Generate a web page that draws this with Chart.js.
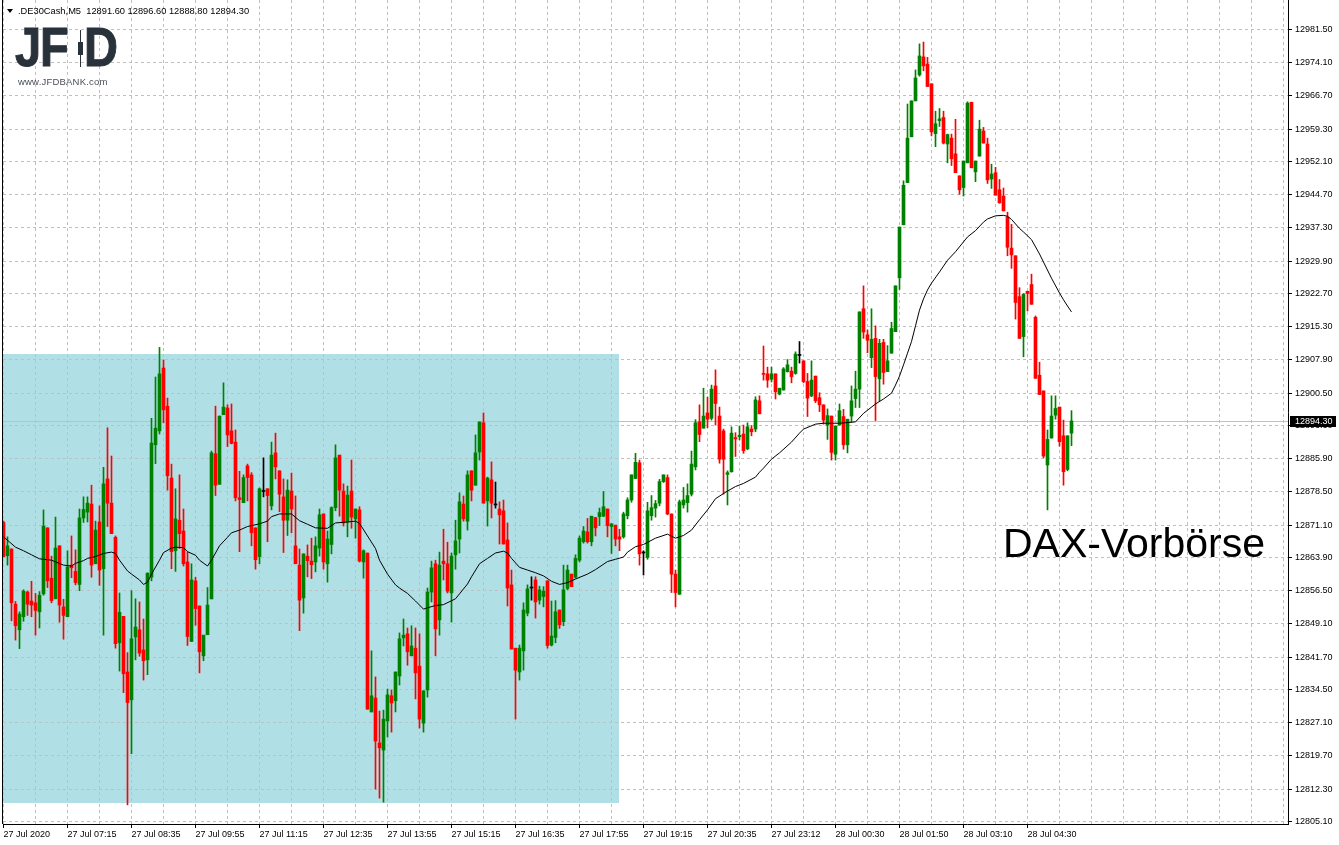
<!DOCTYPE html>
<html lang="de">
<head>
  <meta charset="UTF-8">
  <title>DE30Cash M5</title>
  <script src="https://cdn.jsdelivr.net/npm/chart.js"></script>
  <style>
    body { margin: 0; background: #fff; }
    #wrap { position: relative; width: 1339px; height: 845px; overflow: hidden; }
    #wrap div.over { position: absolute; pointer-events: none; font-family: "Liberation Sans", Arial, sans-serif; }
    #quote { left: 7px; top: 5px; font-size: 9.3px; line-height: 12px; color: #000; white-space: pre; }
    #quote .tri { display: inline-block; width: 0; height: 0; border-left: 3px solid transparent; border-right: 3px solid transparent; border-top: 4px solid #000; margin-right: 5px; vertical-align: 1px; }
    .logo { font-weight: bold; font-size: 56px; line-height: 54px; color: #29313a; transform: scaleX(0.84); transform-origin: left top; -webkit-text-stroke: 1px #29313a; }
    #url { left: 18px; top: 76px; font-size: 9.5px; color: #4a4f55; letter-spacing: 0.2px; }
    #dax { left: 1003px; top: 523px; font-size: 41px; line-height: 41px; color: #000; }
  </style>
</head>
<body>
<div id="wrap">
  <canvas id="chart" width="1339" height="845"></canvas>
  <div class="over" id="quote"><span class="tri"></span><span id="quoteText"></span></div>
  <div class="over logo" style="left:15px;top:20px">J</div>
  <div class="over logo" style="left:40px;top:20px">F</div>
  <div class="over logo" style="left:84px;top:20px">D</div>
  <div class="over" style="left:80px;top:30px;width:1px;height:37px;background:#29313a"></div>
  <div class="over" style="left:78px;top:42px;width:5px;height:13px;background:#29313a"></div>
  <div class="over" id="url">www.JFDBANK.com</div>
  <div class="over" id="dax">DAX-Vorbörse</div>
</div>

<script>
  // 5 minute candles, DE30Cash
  const symbol = '.DE30Cash,M5';
  const timeLabels = ['27 Jul 2020', '27 Jul 07:15', '27 Jul 08:35', '27 Jul 09:55', '27 Jul 11:15', '27 Jul 12:35',
    '27 Jul 13:55', '27 Jul 15:15', '27 Jul 16:35', '27 Jul 17:55', '27 Jul 19:15', '27 Jul 20:35',
    '27 Jul 23:12', '28 Jul 00:30', '28 Jul 01:50', '28 Jul 03:10', '28 Jul 04:30'];
  const priceTicks = [12981.5, 12974.1, 12966.7, 12959.3, 12952.1, 12944.7, 12937.3, 12929.9, 12922.7,
    12915.3, 12907.9, 12900.5, 12893.3, 12885.9, 12878.5, 12871.1, 12863.9, 12856.5, 12849.1,
    12841.7, 12834.5, 12827.1, 12819.7, 12812.3, 12805.1];

  const opens = [
    12871.7, 12864.3, 12865.8, 12853.5, 12847.8, 12850.7, 12856.2, 12854.2, 12853.8, 12851.8,
    12855.8, 12870.5, 12859.3, 12854.7, 12866.5, 12852.9, 12850.7, 12862.2, 12860.8, 12857.9,
    12872.7, 12874.0, 12875.8, 12862.5, 12871.8, 12861.4, 12881.4, 12876.0, 12868.4, 12844.9,
    12850.8, 12838.4, 12832.2, 12846.2, 12847.8, 12843.3, 12841.1, 12859.5, 12889.0, 12892.1,
    12906.1, 12897.6, 12881.6, 12865.4, 12872.2, 12869.8, 12862.9, 12845.2, 12858.7, 12853.1,
    12842.0, 12846.7, 12854.7, 12887.0, 12880.2, 12895.7, 12897.2, 12892.1, 12889.6, 12877.2,
    12876.1, 12884.3, 12882.3, 12870.5, 12864.1, 12878.6, 12879.2, 12875.4, 12887.2, 12883.2,
    12877.4, 12872.2, 12878.7, 12866.5, 12862.2, 12854.9, 12864.2, 12863.1, 12862.9, 12866.0,
    12873.6, 12862.5, 12866.8, 12875.0, 12886.7, 12878.7, 12871.8, 12878.7, 12872.5, 12874.5,
    12862.9, 12864.9, 12829.5, 12832.6, 12822.6, 12821.0, 12827.5, 12833.1, 12832.0, 12837.5,
    12846.0, 12846.9, 12842.0, 12843.7, 12839.7, 12827.0, 12834.4, 12856.2, 12862.5, 12850.0,
    12863.1, 12862.5, 12856.0, 12864.5, 12868.0, 12875.8, 12872.0, 12883.2, 12880.0, 12887.4,
    12893.9, 12876.5, 12881.2, 12875.6, 12874.7, 12874.3, 12867.8, 12857.8, 12843.7, 12838.4,
    12843.1, 12851.5, 12857.1, 12858.9, 12854.4, 12855.2, 12858.7, 12844.4, 12846.1, 12852.2,
    12849.6, 12857.0, 12860.2, 12859.5, 12863.3, 12867.4, 12869.6, 12867.4, 12872.8, 12873.0,
    12873.1, 12874.7, 12870.8, 12871.1, 12868.5, 12868.5, 12873.2, 12876.7, 12881.5, 12885.0,
    12864.9, 12863.9, 12873.2, 12874.9, 12876.0, 12880.8, 12881.7, 12873.6, 12860.2, 12855.7,
    12875.6, 12876.1, 12878.0, 12884.1, 12894.1, 12892.7, 12896.1, 12894.9, 12902.1, 12895.4,
    12892.1, 12882.4, 12883.0, 12890.6, 12890.8, 12891.4, 12888.1, 12892.5, 12892.5, 12898.8,
    12904.9, 12904.8, 12903.6, 12904.8, 12900.3, 12901.2, 12905.3, 12905.4, 12904.9, 12908.9,
    12907.7, 12903.1, 12899.9, 12904.3, 12899.5, 12897.9, 12893.4, 12895.4, 12886.9, 12893.4,
    12895.3, 12889.0, 12895.4, 12899.3, 12901.4, 12919.3, 12913.5, 12908.4, 12912.7, 12903.7,
    12911.8, 12905.3, 12909.4, 12914.2, 12926.2, 12938.0, 12947.4, 12957.6, 12965.6, 12971.4,
    12975.4, 12973.8, 12969.4, 12958.3, 12961.2, 12961.9, 12956.0, 12957.3, 12953.8, 12948.9,
    12946.3, 12951.8, 12965.3, 12949.8, 12953.3, 12958.9, 12956.0, 12948.2, 12949.6, 12945.8,
    12944.4, 12939.7, 12932.8, 12931.1, 12922.0, 12913.1, 12923.2, 12924.7, 12917.4, 12904.5,
    12901.0, 12884.5, 12890.5, 12895.6, 12897.4, 12891.0, 12883.5, 12891.6
  ];
  const highs = [
    12872.0, 12868.5, 12865.8, 12854.1, 12851.8, 12856.7, 12856.4, 12858.6, 12855.9, 12856.3,
    12874.5, 12870.5, 12864.2, 12872.9, 12866.5, 12854.6, 12865.4, 12868.7, 12865.6, 12874.7,
    12877.4, 12877.4, 12880.0, 12872.0, 12875.4, 12884.0, 12892.8, 12886.5, 12868.7, 12856.0,
    12850.8, 12842.7, 12856.5, 12854.7, 12854.0, 12850.2, 12860.5, 12894.9, 12904.1, 12910.7,
    12907.9, 12899.4, 12884.7, 12879.2, 12882.3, 12874.7, 12865.1, 12862.5, 12859.5, 12853.1,
    12846.6, 12857.2, 12887.6, 12897.6, 12895.4, 12902.8, 12897.9, 12898.1, 12892.3, 12883.1,
    12882.3, 12884.7, 12882.8, 12870.5, 12879.4, 12886.1, 12879.2, 12889.6, 12891.6, 12883.2,
    12881.4, 12881.2, 12882.7, 12877.6, 12865.8, 12864.7, 12866.7, 12868.2, 12868.5, 12874.7,
    12873.6, 12869.8, 12875.2, 12889.0, 12886.7, 12880.3, 12879.8, 12885.6, 12874.7, 12875.2,
    12865.6, 12864.9, 12843.1, 12837.3, 12829.7, 12829.9, 12834.6, 12834.4, 12838.4, 12847.1,
    12850.2, 12848.2, 12848.7, 12848.2, 12846.9, 12834.2, 12857.1, 12863.1, 12863.3, 12865.1,
    12870.2, 12867.3, 12864.9, 12872.2, 12878.3, 12877.6, 12883.2, 12883.2, 12891.2, 12894.1,
    12896.1, 12881.8, 12885.2, 12880.7, 12876.3, 12876.7, 12871.6, 12861.1, 12843.7, 12844.4,
    12853.8, 12857.8, 12859.6, 12859.6, 12857.5, 12857.4, 12858.7, 12854.2, 12854.3, 12852.2,
    12862.2, 12862.2, 12860.2, 12864.5, 12868.7, 12870.8, 12872.6, 12873.1, 12872.8, 12874.9,
    12878.6, 12874.7, 12871.4, 12871.1, 12870.2, 12874.0, 12877.2, 12882.3, 12887.1, 12885.6,
    12865.4, 12876.2, 12877.7, 12876.6, 12881.3, 12882.3, 12882.3, 12873.6, 12861.1, 12876.7,
    12879.5, 12880.3, 12887.6, 12894.6, 12897.9, 12901.6, 12899.6, 12902.3, 12905.7, 12897.4,
    12892.5, 12883.2, 12893.0, 12891.7, 12893.2, 12893.4, 12893.9, 12893.3, 12899.7, 12899.9,
    12911.0, 12906.3, 12906.3, 12904.8, 12901.6, 12906.2, 12908.0, 12906.3, 12909.7, 12912.0,
    12907.7, 12904.9, 12907.7, 12904.3, 12900.6, 12897.9, 12897.0, 12895.4, 12893.2, 12898.1,
    12896.9, 12894.7, 12902.1, 12905.4, 12918.6, 12924.4, 12914.6, 12919.3, 12915.5, 12912.5,
    12912.5, 12911.1, 12916.3, 12924.4, 12937.5, 12947.8, 12964.9, 12965.6, 12972.5, 12978.3,
    12978.7, 12975.3, 12969.4, 12963.3, 12963.9, 12963.3, 12958.2, 12958.2, 12961.5, 12948.9,
    12952.2, 12965.4, 12965.3, 12952.2, 12961.3, 12959.7, 12957.3, 12951.5, 12950.8, 12948.1,
    12946.2, 12940.8, 12938.1, 12931.1, 12924.0, 12922.7, 12923.2, 12927.0, 12917.7, 12907.4,
    12901.0, 12892.3, 12899.9, 12899.9, 12897.4, 12894.5, 12891.0, 12896.6
  ];
  const lows = [
    12864.0, 12862.2, 12849.8, 12845.5, 12843.6, 12849.7, 12851.0, 12850.7, 12846.6, 12848.2,
    12855.5, 12857.2, 12853.8, 12854.7, 12849.5, 12845.7, 12850.7, 12859.4, 12857.8, 12856.5,
    12871.7, 12871.8, 12859.5, 12862.5, 12857.7, 12846.6, 12870.8, 12869.2, 12843.7, 12838.6,
    12833.8, 12808.8, 12820.2, 12841.1, 12841.9, 12836.6, 12837.8, 12858.7, 12884.8, 12891.4,
    12893.9, 12878.9, 12861.4, 12860.8, 12865.9, 12862.0, 12844.3, 12845.2, 12848.8, 12838.2,
    12840.9, 12846.7, 12854.7, 12877.7, 12880.2, 12895.7, 12888.6, 12889.2, 12876.5, 12865.2,
    12876.1, 12876.5, 12866.5, 12861.3, 12862.5, 12877.4, 12867.4, 12874.5, 12881.4, 12874.1,
    12865.0, 12868.8, 12869.4, 12862.5, 12847.6, 12851.5, 12859.6, 12859.2, 12860.7, 12864.2,
    12861.3, 12858.4, 12864.7, 12874.3, 12873.1, 12870.9, 12868.5, 12870.4, 12868.2, 12862.9,
    12859.3, 12830.1, 12829.5, 12812.3, 12810.3, 12809.4, 12823.9, 12825.0, 12829.5, 12835.5,
    12844.2, 12839.9, 12842.0, 12832.4, 12825.9, 12825.0, 12832.8, 12854.0, 12842.0, 12846.6,
    12858.9, 12856.0, 12849.5, 12861.3, 12864.9, 12872.0, 12870.0, 12876.5, 12880.0, 12885.6,
    12876.0, 12870.9, 12872.7, 12874.9, 12866.9, 12866.9, 12853.1, 12843.5, 12827.9, 12836.6,
    12838.8, 12850.9, 12854.4, 12850.4, 12853.5, 12852.9, 12843.7, 12844.2, 12844.9, 12848.1,
    12848.7, 12856.7, 12857.4, 12859.3, 12862.9, 12867.1, 12867.1, 12866.5, 12868.7, 12871.0,
    12873.0, 12868.5, 12864.8, 12866.5, 12865.4, 12868.2, 12872.5, 12876.2, 12881.5, 12862.2,
    12860.0, 12863.5, 12872.2, 12872.9, 12875.4, 12880.6, 12873.4, 12856.1, 12852.9, 12855.7,
    12874.9, 12874.0, 12877.6, 12883.4, 12889.7, 12892.7, 12892.8, 12894.5, 12893.4, 12884.9,
    12878.0, 12875.6, 12882.9, 12886.4, 12890.1, 12887.1, 12887.9, 12891.0, 12891.9, 12895.9,
    12903.4, 12901.8, 12903.0, 12899.2, 12900.1, 12901.2, 12905.2, 12902.8, 12904.7, 12907.2,
    12902.8, 12895.3, 12899.7, 12898.4, 12896.4, 12893.6, 12890.2, 12885.6, 12885.6, 12893.4,
    12888.0, 12887.2, 12894.1, 12897.3, 12897.3, 12912.7, 12909.5, 12906.2, 12894.4, 12898.8,
    12902.5, 12905.3, 12909.4, 12914.2, 12923.6, 12938.0, 12947.4, 12957.6, 12965.6, 12971.1,
    12972.3, 12968.8, 12957.8, 12955.4, 12959.9, 12956.0, 12951.8, 12951.2, 12949.6, 12944.8,
    12944.4, 12951.8, 12950.7, 12947.6, 12953.3, 12956.2, 12947.2, 12946.1, 12944.6, 12942.8,
    12941.1, 12931.1, 12928.3, 12917.0, 12912.7, 12908.6, 12918.8, 12920.3, 12903.8, 12900.2,
    12886.1, 12874.5, 12890.5, 12894.7, 12888.7, 12880.0, 12883.2, 12888.8
  ];
  const closes = [
    12864.1, 12866.5, 12853.8, 12848.7, 12851.3, 12856.4, 12853.5, 12853.3, 12852.1, 12855.5,
    12870.9, 12858.7, 12854.3, 12866.0, 12853.3, 12851.0, 12861.8, 12861.6, 12858.3, 12872.7,
    12874.6, 12876.0, 12862.2, 12870.0, 12861.1, 12880.3, 12876.0, 12869.2, 12844.7, 12851.7,
    12838.0, 12831.6, 12845.8, 12848.4, 12842.6, 12840.9, 12860.4, 12889.4, 12892.7, 12904.8,
    12896.8, 12882.1, 12865.2, 12872.5, 12869.2, 12862.5, 12846.3, 12858.9, 12852.5, 12842.9,
    12846.6, 12853.3, 12887.2, 12880.0, 12895.4, 12897.4, 12891.2, 12889.3, 12877.2, 12876.8,
    12881.7, 12881.7, 12869.4, 12863.4, 12879.2, 12878.6, 12877.7, 12886.7, 12884.1, 12878.0,
    12872.2, 12878.9, 12874.7, 12862.5, 12854.4, 12864.7, 12863.2, 12862.3, 12866.5, 12873.4,
    12862.9, 12868.0, 12875.0, 12886.1, 12878.9, 12871.6, 12877.8, 12872.9, 12874.7, 12863.1,
    12865.4, 12830.1, 12833.1, 12823.0, 12821.5, 12827.9, 12833.3, 12831.5, 12838.4, 12845.8,
    12846.6, 12842.9, 12844.2, 12838.2, 12827.9, 12834.2, 12856.2, 12861.6, 12848.0, 12862.2,
    12862.5, 12856.4, 12864.2, 12867.6, 12876.3, 12872.5, 12882.3, 12878.9, 12887.2, 12894.1,
    12876.0, 12881.6, 12876.0, 12875.6, 12873.4, 12866.9, 12857.1, 12843.5, 12838.8, 12843.7,
    12852.2, 12856.9, 12857.1, 12854.0, 12856.7, 12856.4, 12844.3, 12846.4, 12851.8, 12848.9,
    12856.7, 12861.1, 12857.4, 12863.7, 12868.2, 12869.8, 12867.4, 12873.1, 12870.5, 12873.9,
    12875.2, 12871.0, 12871.4, 12868.0, 12868.0, 12873.6, 12876.7, 12882.3, 12885.1, 12864.7,
    12864.9, 12874.3, 12875.0, 12875.9, 12880.8, 12882.3, 12873.6, 12860.2, 12856.1, 12876.3,
    12876.7, 12877.7, 12884.7, 12893.9, 12891.3, 12895.4, 12894.7, 12901.4, 12898.2, 12885.8,
    12885.8, 12882.8, 12891.6, 12890.3, 12891.1, 12887.7, 12893.0, 12891.9, 12899.0, 12895.9,
    12904.7, 12903.4, 12904.8, 12900.8, 12901.6, 12905.9, 12906.8, 12904.2, 12909.2, 12908.9,
    12903.1, 12899.4, 12903.4, 12898.8, 12897.9, 12894.5, 12895.5, 12887.3, 12893.2, 12896.6,
    12889.0, 12894.7, 12898.8, 12901.4, 12918.6, 12914.1, 12912.3, 12912.5, 12904.2, 12911.6,
    12905.1, 12907.7, 12914.9, 12924.4, 12937.5, 12946.8, 12957.3, 12965.6, 12970.7, 12975.6,
    12973.4, 12968.8, 12958.7, 12960.5, 12961.6, 12956.2, 12958.1, 12952.7, 12949.6, 12945.8,
    12952.2, 12965.1, 12950.7, 12952.2, 12959.3, 12956.2, 12948.0, 12949.3, 12944.6, 12942.9,
    12941.1, 12933.0, 12931.3, 12920.7, 12912.7, 12922.5, 12922.7, 12920.3, 12903.8, 12900.2,
    12886.5, 12890.2, 12895.4, 12897.1, 12889.7, 12883.0, 12891.0, 12894.3
  ];

  // moving average at these bar positions
  const maIdx = [0, 3, 5, 7, 9, 12, 15, 17, 18, 20,
    21, 23, 25, 27, 28, 29, 31, 32, 34, 35,
    36, 37, 39, 40, 42, 43, 45, 46, 48, 49,
    51, 52, 54, 56, 57, 59, 61, 62, 64, 66,
    67, 69, 72, 74, 76, 78, 81, 83, 86, 88,
    89, 91, 93, 94, 96, 98, 99, 101, 103, 105,
    106, 108, 110, 113, 114, 116, 117, 119, 121, 123,
    125, 126, 127, 129, 131, 133, 135, 137, 139, 141,
    143, 146, 148, 151, 153, 155, 156, 158, 160, 163,
    166, 168, 170, 172, 174, 176, 178, 181, 183, 185,
    188, 189, 190, 192, 194, 197, 199, 200, 203, 205,
    209, 213, 215, 218, 220, 222, 223, 224, 225, 226,
    227, 228, 229, 230, 231, 232, 234, 236, 238, 240,
    241, 243, 245, 246, 248, 250, 251, 252, 254, 255,
    257, 259, 260, 262, 264, 265, 266, 267];
  const maVal = [12868.5, 12866.2, 12865.4, 12864.5, 12863.6, 12863.3, 12862.2, 12862.0, 12862.6, 12863.2,
    12863.7, 12864.1, 12864.8, 12865.1, 12864.8, 12863.3, 12860.9, 12860.2, 12858.9, 12857.9,
    12858.4, 12860.2, 12863.3, 12865.0, 12866.0, 12866.2, 12866.1, 12865.2, 12864.4, 12863.3,
    12862.0, 12863.3, 12866.5, 12868.4, 12869.4, 12870.0, 12870.8, 12871.0, 12871.4, 12872.0,
    12873.0, 12873.6, 12873.6, 12872.1, 12871.3, 12870.5, 12870.4, 12871.6, 12871.8, 12872.0,
    12871.5, 12868.7, 12865.9, 12863.3, 12860.2, 12857.8, 12857.1, 12855.9, 12854.2, 12852.4,
    12852.7, 12853.2, 12853.4, 12854.7, 12855.8, 12858.0, 12859.6, 12862.5, 12863.7, 12864.9,
    12865.3, 12864.9, 12863.7, 12861.7, 12861.1, 12860.5, 12859.8, 12858.6, 12857.9, 12858.3,
    12859.1, 12860.2, 12861.2, 12863.0, 12863.5, 12864.0, 12865.1, 12866.3, 12866.8, 12868.2,
    12869.1, 12868.2, 12868.8, 12870.0, 12872.3, 12874.5, 12877.0, 12878.7, 12879.7, 12880.4,
    12881.8, 12882.9, 12883.8, 12885.8, 12887.2, 12889.6, 12891.6, 12892.5, 12893.6, 12893.8,
    12893.8, 12894.1, 12896.0, 12898.1, 12899.2, 12900.5, 12902.3, 12904.3, 12906.8, 12909.4,
    12912.0, 12915.5, 12919.0, 12921.5, 12923.5, 12925.0, 12927.5, 12930.1, 12932.0, 12934.2,
    12935.3, 12936.7, 12938.6, 12939.3, 12940.0, 12940.1, 12939.9, 12939.2, 12937.2, 12936.4,
    12934.7, 12931.5, 12929.7, 12926.1, 12922.8, 12921.3, 12919.9, 12918.6];

  // shaded range (bar index and price bounds)
  const zoneBars = [-0.3, 153.9];
  const zonePrices = [12809.3, 12909.2];

  const priceMin = 12804.54, priceMax = 12988.07;
  const barMin = -0.125, barMax = 321.125;
  const barsPerGrid = 8, barsPerLabel = 16;

  const upColor = '#008000', downColor = '#ff0000', dojiColor = '#000000';
  const gridColor = '#c0c0c0';
  const axisFont = { family: '"Liberation Sans", Arial, sans-serif', size: 9 };

  const last = opens.length - 1;
  const lastClose = closes[last];
  document.getElementById('quoteText').textContent = symbol + '  ' +
    [opens[last], highs[last], lows[last], closes[last]].map(v => v.toFixed(2)).join(' ');

  const idx = opens.map((_, i) => i);
  const candleColor = idx.map(i => closes[i] > opens[i] ? upColor : (closes[i] < opens[i] ? downColor : dojiColor));

  // true when an x tick carries a time label
  const isLabelTick = v => v % barsPerLabel === 0 && v / barsPerLabel < timeLabels.length;

  const decor = {
    id: 'decor',
    beforeDraw(chart) {
      const { ctx, chartArea: a, scales: { x, y } } = chart;
      ctx.save();
      ctx.fillStyle = '#fff';
      ctx.fillRect(0, 0, chart.width, chart.height);
      const x0 = Math.max(a.left, x.getPixelForValue(zoneBars[0]));
      const x1 = x.getPixelForValue(zoneBars[1]);
      const y0 = y.getPixelForValue(zonePrices[1]);
      const y1 = y.getPixelForValue(zonePrices[0]);
      ctx.fillStyle = '#b0e0e6';
      ctx.fillRect(x0, Math.round(y0), Math.round(x1 - x0), Math.round(y1 - y0));
      ctx.restore();
    },
    beforeDatasetsDraw(chart) {
      const { ctx, chartArea: a, scales: { y } } = chart;
      const py = Math.round(y.getPixelForValue(lastClose)) + 0.5;
      ctx.save();
      ctx.strokeStyle = gridColor;
      ctx.lineWidth = 1;
      ctx.beginPath();
      ctx.moveTo(a.left, py);
      ctx.lineTo(a.right, py);
      ctx.stroke();
      ctx.restore();
    },
    afterDraw(chart) {
      const { ctx, chartArea: a, scales: { y } } = chart;
      ctx.save();
      ctx.strokeStyle = '#000';
      ctx.lineWidth = 1;
      ctx.beginPath();
      ctx.moveTo(a.left - 0.5, 0);
      ctx.lineTo(a.left - 0.5, a.bottom);
      ctx.stroke();
      // last price tag
      const py = Math.round(y.getPixelForValue(lastClose));
      ctx.fillStyle = '#000';
      ctx.fillRect(a.right + 2, py - 5, 46, 11);
      ctx.fillStyle = '#fff';
      ctx.font = '9px "Liberation Sans", Arial, sans-serif';
      ctx.textBaseline = 'middle';
      ctx.fillText(lastClose.toFixed(2), a.right + 7, py + 0.5);
      ctx.restore();
    }
  };

  new Chart(document.getElementById('chart'), {
    type: 'bar',
    data: {
      datasets: [
        {
          type: 'line',
          label: 'MA',
          data: maIdx.map((v, k) => ({ x: v, y: maVal[k] })),
          borderColor: '#000',
          borderWidth: 1,
          pointRadius: 0,
          tension: 0,
          order: 0
        },
        {
          label: 'body',
          data: idx.map(i => ({ x: i, y: [opens[i], closes[i]] })),
          backgroundColor: candleColor,
          barThickness: 3,
          minBarLength: 1,
          grouped: false,
          borderWidth: 0,
          order: 1
        },
        {
          label: 'wick',
          data: idx.map(i => ({ x: i, y: [lows[i], highs[i]] })),
          backgroundColor: candleColor,
          barThickness: 1,
          grouped: false,
          borderWidth: 0,
          order: 2
        }
      ]
    },
    options: {
      responsive: false,
      animation: false,
      events: [],
      layout: { padding: { left: 3, top: 0, right: 0, bottom: 0 } },
      plugins: { legend: { display: false }, tooltip: { enabled: false } },
      scales: {
        x: {
          type: 'linear',
          min: barMin,
          max: barMax,
          offset: false,
          afterBuildTicks(scale) {
            const t = [];
            for (let v = 0; v <= barMax; v += barsPerGrid) t.push({ value: v });
            scale.ticks = t;
          },
          afterFit(scale) {
            scale.height = 21;
            scale.paddingLeft = 0;
            scale.paddingRight = 0;
          },
          grid: {
            offset: false,
            color: gridColor,
            tickLength: 4,
            tickColor: c => (c.tick && isLabelTick(c.tick.value)) ? '#000' : 'rgba(0,0,0,0)'
          },
          border: { color: '#000', dash: [3, 3] },
          ticks: {
            autoSkip: false,
            maxRotation: 0,
            minRotation: 0,
            align: 'start',
            padding: 1,
            color: '#000',
            font: axisFont,
            callback: v => isLabelTick(v) ? timeLabels[v / barsPerLabel] : ''
          }
        },
        y: {
          position: 'right',
          min: priceMin,
          max: priceMax,
          afterBuildTicks(scale) {
            scale.ticks = priceTicks.map(v => ({ value: v }));
          },
          afterFit(scale) {
            scale.width = 51;
            scale.paddingTop = 0;
            scale.paddingBottom = 0;
          },
          grid: { color: gridColor, tickLength: 4, tickColor: '#000' },
          border: { color: '#000', dash: [3, 3] },
          ticks: {
            padding: 3,
            color: '#000',
            font: axisFont,
            callback: v => v.toFixed(2)
          }
        }
      }
    },
    plugins: [decor]
  });
</script>
</body>
</html>
